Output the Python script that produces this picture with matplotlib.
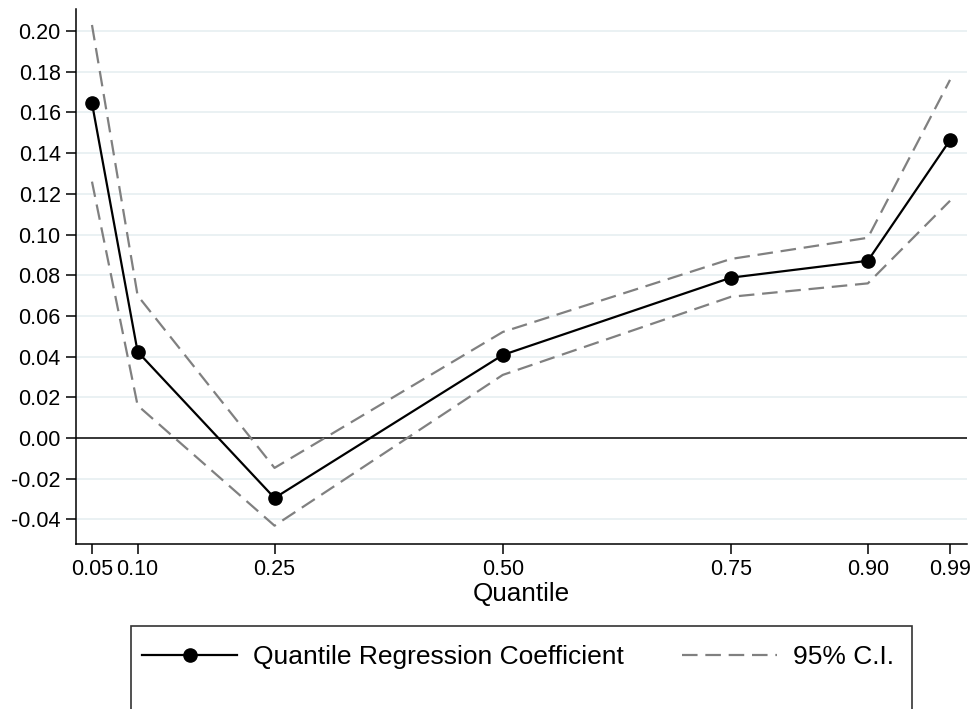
import matplotlib.pyplot as plt
from matplotlib.patches import Rectangle

plt.rcParams['font.family'] = ['Liberation Sans', 'DejaVu Sans']

# quantile regression estimates with 95% confidence bounds
quantiles = [0.05, 0.10, 0.25, 0.50, 0.75, 0.90, 0.99]
coef = [0.1646, 0.0424, -0.0295, 0.0408, 0.0788, 0.0871, 0.1464]
ci_upper = [0.2030, 0.0700, -0.0147, 0.0521, 0.0880, 0.0984, 0.1760]
ci_lower = [0.1260, 0.0160, -0.0431, 0.0310, 0.0694, 0.0760, 0.1166]

xtick_labels = ['0.05', '0.10', '0.25', '0.50', '0.75', '0.90', '0.99']
ytick_vals = [-0.04, -0.02, 0.00, 0.02, 0.04, 0.06, 0.08, 0.10,
              0.12, 0.14, 0.16, 0.18, 0.20]

W, H = 974, 709
fig = plt.figure(figsize=(W / 100, H / 100), dpi=100)
ax = fig.add_axes([76 / W, 1 - 544 / H, (967 - 76) / W, (544 - 9.3) / H])

grid_col = '#e4edf0'
for v in ytick_vals:
    if v != 0:
        ax.axhline(v, color=grid_col, lw=1.1, zorder=0)
ax.axhline(0, color='black', lw=1.1, zorder=1)

ci_style = dict(color='#808080', lw=1.6, dashes=(7, 3.5), zorder=2)
ax.plot(quantiles, ci_upper, **ci_style, label='95% C.I.')
ax.plot(quantiles, ci_lower, **ci_style)
ax.plot(quantiles, coef, color='black', lw=1.6, marker='o', markersize=9.5,
        zorder=3, label='Quantile Regression Coefficient')

ax.set_xlim(0.0325, 1.0086)
ax.set_ylim(-0.0521, 0.2107)
ax.set_xticks(quantiles)
ax.set_xticklabels(xtick_labels)
ax.set_yticks(ytick_vals)
ax.set_yticklabels(['%.2f' % v for v in ytick_vals])
ax.tick_params(labelsize=15.5, length=7.5, width=1.1, pad=3.5, color='black')
ax.set_xlabel('Quantile', fontsize=18.8, labelpad=1)

for side in ('top', 'right'):
    ax.spines[side].set_visible(False)
for side in ('left', 'bottom'):
    ax.spines[side].set_linewidth(1.1)

# legend below the plot, with its box running off the bottom edge
handles, labels = ax.get_legend_handles_labels()
fig.legend(handles[::-1], labels[::-1], ncol=2, frameon=False,
           loc='upper left', bbox_to_anchor=(142 / W, 1 - 645 / H),
           borderpad=0, borderaxespad=0, fontsize=19,
           handlelength=3.6, handletextpad=0.6, columnspacing=2.2)
fig.patches.append(Rectangle((131 / W, -0.05), (912 - 131) / W,
                             0.05 + 1 - 626 / H, transform=fig.transFigure,
                             fill=False, edgecolor='#333333', lw=1.2))

fig.savefig('out.png', dpi=100)
